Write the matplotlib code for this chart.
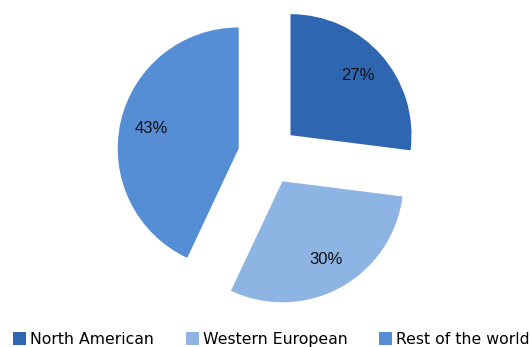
import matplotlib
matplotlib.use("Agg")
import matplotlib.pyplot as plt

categories = ["North American", "Western European", "Rest of the world"]
values = [27, 30, 43]
colors = ["#2E66B1", "#8EB4E3", "#558ED5"]

W, H = 531, 347
fig = plt.figure(figsize=(W / 100, H / 100), dpi=100)
ax = fig.add_axes([0, 0, 1, 1])

radius = 121
wedges, texts, autotexts = ax.pie(
    values,
    colors=colors,
    startangle=90,
    counterclock=False,
    explode=[30] * 3,
    radius=radius,
    center=(268, H - 155),
    autopct="%d%%",
    pctdistance=0.74,
    textprops=dict(fontsize=12, family="Liberation Sans", color="#111111"),
    frame=True,
)
ax.set_xlim(0, W)
ax.set_ylim(0, H)
ax.set_aspect("auto")
ax.axis("off")

leg = fig.legend(
    wedges, categories,
    loc="lower left", bbox_to_anchor=(2 / W, -11 / H),
    ncol=3, frameon=False,
    prop=dict(family="DejaVu Sans", size=11.3),
    handlelength=0.85, handleheight=0.85, handletextpad=0.25,
    columnspacing=2.0, borderpad=0.2,
)

fig.savefig("out.png", dpi=100)
